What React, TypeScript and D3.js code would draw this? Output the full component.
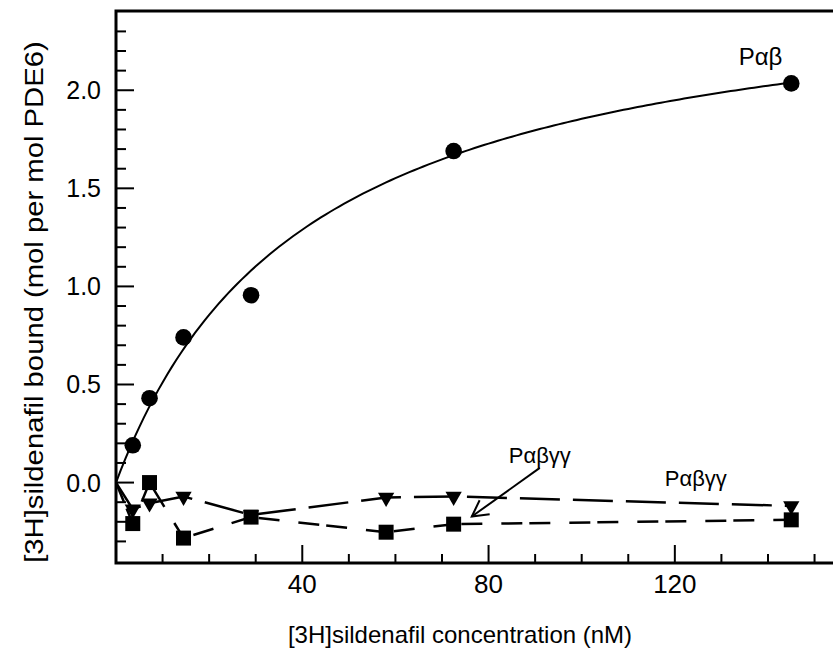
import React from "react";
import * as d3 from "d3";

// sildenafil concentrations (nM)
const concentrations = [3.6, 7.2, 14.5, 29, 58, 72.5, 145];

// Pαβ (circles, no point at 58 nM)
const pabConc = [3.6, 7.2, 14.5, 29, 72.5, 145];
const pabBound = [0.19, 0.43, 0.74, 0.955, 1.69, 2.035];

// Pαβγγ, two runs
const squareBound = [-0.209, 0.0, -0.283, -0.176, -0.253, -0.212, -0.19];
const triangleBound = [-0.136, -0.105, -0.071, -0.165, -0.076, -0.071, -0.119];

// hyperbolic fit for Pαβ
const fitBmax = 2.62;
const fitKd = 41.3;

const xTicks = [40, 80, 120];
const yTicks = [0, 0.5, 1.0, 1.5, 2.0];

const W = 833;
const H = 661;
const font = "'Liberation Sans', Arial, sans-serif";

export default function App() {
  const x = d3.scaleLinear().domain([0, 160]).range([116, 116 + 160 * 4.657]);
  const y = d3.scaleLinear().domain([-0.41, 2.404]).range([563, 11]);

  const line = d3.line<[number, number]>().x(d => x(d[0])).y(d => y(d[1]));

  const fitPts: [number, number][] = d3.range(0, 145.01, 1).map(c => [c, (fitBmax * c) / (fitKd + c)]);
  const squarePts: [number, number][] = [[0, 0], ...concentrations.map((c, i) => [c, squareBound[i]] as [number, number])];
  const trianglePts: [number, number][] = [[0, 0], ...concentrations.map((c, i) => [c, triangleBound[i]] as [number, number])];

  const squarePath = d3.symbol(d3.symbolSquare, 225)()!;
  const trianglePath = d3.symbol(d3.symbolTriangle, 115)()!;

  const xMinor = d3.range(10, 160, 10);
  const yMinor = d3.range(-3, 24).map(v => v / 10);

  const [x0, x1] = x.range();
  const [yb, yt] = y.range();

  // arrow pointing at the square series
  const arrowTip: [number, number] = [x(76.4), y(-0.173)];
  const arrowTail: [number, number] = [x(91), y(0.075)];
  const ang = Math.atan2(arrowTail[1] - arrowTip[1], arrowTail[0] - arrowTip[0]);
  const wing = (da: number) => [arrowTip[0] + 18 * Math.cos(ang + da), arrowTip[1] + 18 * Math.sin(ang + da)];
  const w1 = wing(0.5);
  const w2 = wing(-0.5);

  return (
    <div style={{ position: "fixed", left: 0, top: 0 }}>
      <svg width={W} height={H} style={{ display: "block", background: "#fff" }} fontFamily={font}>
        {/* frame */}
        <path d={`M${x1},${yt}H${x0}V${yb}H${x1}`} fill="none" stroke="#000" strokeWidth={3} />

        {/* x ticks */}
        {xMinor.map(v => (
          <line key={"xt" + v} x1={x(v)} x2={x(v)} y1={yb} y2={yb - (v % 40 === 0 ? 18 : 9)} stroke="#000" strokeWidth={2} />
        ))}
        {xTicks.map(v => (
          <text key={"xl" + v} x={x(v)} y={yb + 30} textAnchor="middle" fontSize={26}>{v}</text>
        ))}

        {/* y ticks */}
        {yMinor.map(v => {
          const major = Math.abs(v * 2 - Math.round(v * 2)) < 1e-6;
          return <line key={"yt" + v} x1={x0} x2={x0 + (major ? 18 : 10)} y1={y(v)} y2={y(v)} stroke="#000" strokeWidth={2} />;
        })}
        {yTicks.map(v => (
          <text key={"yl" + v} x={x0 - 15} y={y(v)} dy="0.36em" textAnchor="end" fontSize={25}>{v.toFixed(1)}</text>
        ))}

        {/* axis titles */}
        <text x={460} y={643} textAnchor="middle" fontSize={24}>[3H]sildenafil concentration (nM)</text>
        <text transform={`translate(43,${y(0.92)}) rotate(-90) scale(1.17,1)`} textAnchor="middle" fontSize={25}>
          [3H]sildenafil bound (mol per mol PDE6)
        </text>

        {/* series lines */}
        <path d={line(fitPts)!} fill="none" stroke="#000" strokeWidth={2} />
        <path d={line(trianglePts)!} fill="none" stroke="#000" strokeWidth={2.5} strokeDasharray="40 13" />
        <path d={line(squarePts)!} fill="none" stroke="#000" strokeWidth={2.5} strokeDasharray="21 7 21 19" />

        {/* markers */}
        {pabConc.map((c, i) => (
          <circle key={"c" + i} cx={x(c)} cy={y(pabBound[i])} r={8.3} fill="#000" />
        ))}
        {concentrations.map((c, i) => (
          <path key={"t" + i} d={trianglePath} transform={`translate(${x(c)},${y(triangleBound[i])}) rotate(180)`} fill="#000" />
        ))}
        {concentrations.map((c, i) => (
          <path key={"s" + i} d={squarePath} transform={`translate(${x(c)},${y(squareBound[i])})`} fill="#000" />
        ))}

        {/* annotations */}
        <text x={x(138.4)} y={y(2.13)} textAnchor="middle" fontSize={24}>Pαβ</text>
        <text x={x(91)} y={y(0.1)} textAnchor="middle" fontSize={22}>Pαβγγ</text>
        <text x={x(124.5)} y={y(-0.02)} textAnchor="middle" fontSize={22}>Pαβγγ</text>
        <line x1={arrowTail[0]} y1={arrowTail[1]} x2={arrowTip[0]} y2={arrowTip[1]} stroke="#000" strokeWidth={2} />
        <path d={`M${w1[0]},${w1[1]}L${arrowTip[0]},${arrowTip[1]}L${w2[0]},${w2[1]}`} fill="none" stroke="#000" strokeWidth={2} />
      </svg>
    </div>
  );
}
